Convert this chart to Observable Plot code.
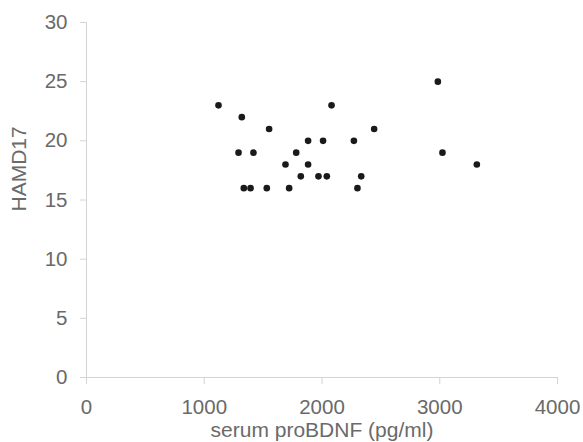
<!DOCTYPE html>
<html>
<head>
<meta charset="utf-8">
<script src="https://cdn.jsdelivr.net/npm/d3@7"></script>
<script src="https://cdn.jsdelivr.net/npm/@observablehq/plot@0.6"></script>
<style>
  html, body { margin: 0; padding: 0; background: #fff; }
  #chart svg { display: block; }
</style>
</head>
<body>
<div id="chart"></div>
<script>
const proBDNF = [1121, 1319, 1551, 1291, 1418, 1336, 1393, 1531, 2081, 2443, 1882, 2009, 2271, 1781, 3023, 1690, 1882, 1820, 1970, 2041, 2333, 1721, 2301, 2984, 3315];
const hamd17  = [23, 22, 21, 19, 19, 16, 16, 16, 23, 21, 20, 20, 20, 19, 19, 18, 18, 17, 17, 17, 17, 16, 16, 25, 18];
const xTicks = [0, 1000, 2000, 3000, 4000];
const yTicks = [0, 5, 10, 15, 20, 25, 30];
const xLabel = "serum proBDNF (pg/ml)";
const yLabel = "HAMD17";

const data = proBDNF.map((v, i) => ({x: v, y: hamd17[i]}));

const axisGray = "#d4d4d4";
const textGray = "#6a6a6a";

const chart = Plot.plot({
  width: 583,
  height: 442,
  marginLeft: 86,
  marginRight: 26,
  marginTop: 22,
  marginBottom: 65,
  style: {fontFamily: "'Liberation Sans', Arial, Helvetica, sans-serif", background: "#fff"},
  x: {domain: [0, 4000]},
  y: {domain: [0, 30]},
  marks: [
    Plot.ruleX([0], {stroke: axisGray, strokeWidth: 1}),
    Plot.ruleY([0], {stroke: axisGray, strokeWidth: 1}),
    Plot.axisX({ticks: xTicks, tickFormat: d => String(d), tickSize: 7, tickPadding: 15, stroke: axisGray, fill: textGray, fontSize: 20.5, label: null}),
    Plot.axisY({ticks: yTicks, tickFormat: d => String(d), tickSize: 6, tickPadding: 13, stroke: axisGray, fill: textGray, fontSize: 20.5, label: null}),
    Plot.text([xLabel], {frameAnchor: "bottom", dy: 53, lineAnchor: "middle", fill: textGray, fontSize: 21}),
    Plot.text([yLabel], {frameAnchor: "left", rotate: -90, dx: -67, dy: 11.5, lineAnchor: "middle", fill: textGray, fontSize: 21}),
    Plot.dot(data, {x: "x", y: "y", r: 3.3, fill: "#1a1a1a", stroke: "none"})
  ]
});
document.getElementById("chart").appendChild(chart);
</script>
</body>
</html>
